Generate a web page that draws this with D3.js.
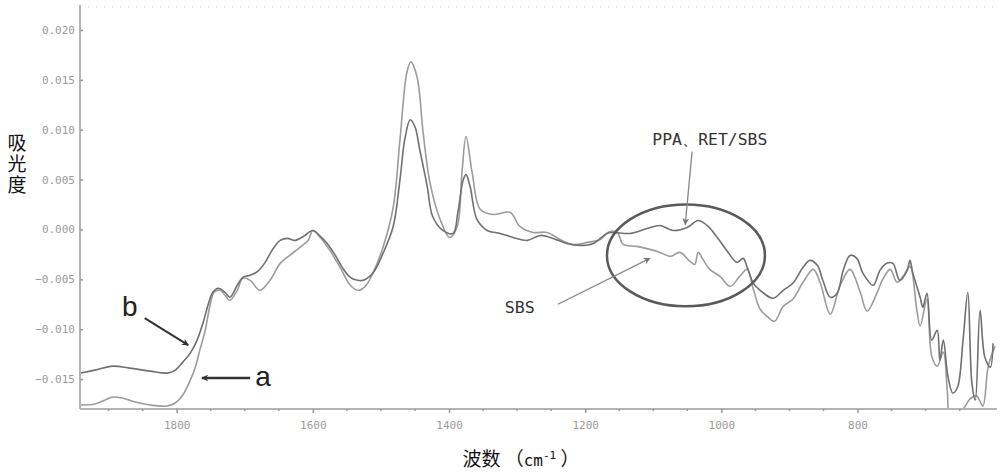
<!DOCTYPE html>
<html><head><meta charset="utf-8">
<script src="https://cdn.jsdelivr.net/npm/d3@7"></script>
<style>html,body{margin:0;padding:0;background:#fff;} svg{display:block;}</style>
</head><body>
<svg id="chart" width="1000" height="474"></svg>
<script>
// ---- data (wavenumber cm-1, absorbance) ----
const waveB = [1942,1920,1894,1869,1839,1814,1802,1791,1780,1770,1761,1754,1747,1739,1729,1722,1711,1703,1692,1681,1670,1660,1648,1637,1626,1614,1600,1589,1579,1567,1556,1545,1534,1526,1512,1497,1482,1472,1465,1457,1450,1443,1432,1424,1409,1394,1387,1379,1375,1369,1359,1344,1325,1306,1285,1266,1247,1227,1208,1188,1168,1159,1134,1109,1090,1071,1050,1034,1021,1006,992,977,968,962,953,943,924,909,895,880,870,859,851,840,830,821,811,801,792,777,767,757,748,738,727,723,719,708,704,698,691,683,679,674,667,660,653,645,638,632,627,620,613,605,601];
const absB = [-0.0144,-0.0141,-0.0137,-0.0139,-0.0142,-0.0144,-0.0141,-0.0133,-0.0124,-0.0111,-0.0093,-0.0076,-0.0063,-0.0059,-0.0063,-0.0068,-0.0056,-0.0048,-0.0046,-0.0042,-0.0033,-0.0021,-0.0011,-0.0009,-0.0011,-0.0007,-0.0001,-0.0007,-0.0014,-0.0026,-0.0039,-0.0048,-0.0051,-0.0051,-0.0044,-0.0024,0.0003,0.0050,0.0090,0.0110,0.0103,0.0080,0.0043,0.0013,-0.0001,-0.0004,0.0017,0.0050,0.0055,0.0043,0.0010,-0.0001,-0.0004,-0.0008,-0.0011,-0.0006,-0.0009,-0.0014,-0.0016,-0.0014,-0.0004,-0.0003,-0.0004,0.0001,0.0004,-0.0001,0.0002,0.0009,0.0004,-0.0008,-0.0021,-0.0033,-0.0029,-0.0038,-0.0054,-0.0061,-0.0069,-0.0061,-0.0054,-0.0038,-0.0031,-0.0036,-0.0051,-0.0068,-0.0064,-0.0041,-0.0026,-0.0029,-0.0044,-0.0056,-0.0041,-0.0034,-0.0034,-0.0051,-0.0041,-0.0031,-0.0043,-0.0068,-0.0078,-0.0064,-0.0111,-0.0101,-0.0131,-0.0111,-0.0148,-0.0164,-0.0158,-0.0111,-0.0063,-0.0154,-0.0171,-0.0081,-0.0128,-0.0138,-0.0114];

const waveA = [1942,1920,1905,1894,1880,1861,1839,1814,1802,1791,1780,1773,1766,1758,1751,1745,1736,1729,1722,1711,1703,1692,1678,1663,1648,1634,1619,1607,1600,1589,1575,1560,1545,1534,1523,1512,1497,1482,1472,1462,1456,1447,1438,1428,1413,1399,1388,1381,1375,1366,1354,1335,1310,1296,1277,1256,1237,1219,1197,1178,1164,1153,1144,1124,1105,1090,1075,1061,1046,1039,1034,1027,1017,1002,987,973,962,953,943,933,922,909,895,880,865,855,840,826,811,796,786,771,763,752,742,733,723,713,708,698,691,683,674,668,664,645,635,625,616,608,598];
const absA = [-0.0176,-0.0175,-0.0171,-0.0168,-0.0169,-0.0173,-0.0176,-0.0177,-0.0174,-0.0166,-0.0151,-0.0139,-0.0121,-0.0101,-0.0076,-0.0063,-0.0061,-0.0066,-0.0071,-0.0061,-0.0049,-0.0051,-0.0061,-0.0051,-0.0034,-0.0026,-0.0018,-0.0011,-0.0001,-0.0008,-0.0021,-0.0038,-0.0056,-0.0061,-0.0057,-0.0044,-0.0018,0.0022,0.0090,0.0157,0.0168,0.0153,0.0097,0.0047,0.0010,-0.0008,0.0003,0.0057,0.0093,0.0057,0.0020,0.0015,0.0017,0.0003,-0.0003,-0.0003,-0.0010,-0.0015,-0.0013,-0.0010,-0.0002,-0.0003,-0.0015,-0.0017,-0.0020,-0.0023,-0.0027,-0.0023,-0.0032,-0.0035,-0.0023,-0.0030,-0.0040,-0.0047,-0.0057,-0.0047,-0.0040,-0.0060,-0.0080,-0.0087,-0.0092,-0.0077,-0.0070,-0.0053,-0.0040,-0.0053,-0.0085,-0.0057,-0.0040,-0.0063,-0.0082,-0.0063,-0.0050,-0.0040,-0.0053,-0.0047,-0.0037,-0.0080,-0.0097,-0.0070,-0.0127,-0.0137,-0.0123,-0.0163,-0.0185,-0.0180,-0.0170,-0.0167,-0.0177,-0.0137,-0.0117];

const xMajorTicks = [1800, 1600, 1400, 1200, 1000, 800];
const xMinorTicks = [1900,1850,1750,1700,1650,1550,1500,1450,1350,1300,1250,1150,1100,1050,950,900,850,750,700,650];
const yTicks = [0.020, 0.015, 0.010, 0.005, 0.000, -0.005, -0.010, -0.015];
const xDomain = [1942, 601];
const yDomain = [-0.0180, 0.0225];

// ---- layout ----
const svg = d3.select("#chart");
const L = 80, R = 993, T = 5, B = 409;
const x = d3.scaleLinear().domain(xDomain).range([L, R]);
const y = d3.scaleLinear().domain(yDomain).range([B, T]);

svg.append("defs").append("clipPath").attr("id", "plotclip")
  .append("rect").attr("x", L + 1).attr("y", T).attr("width", 1000 - L).attr("height", B - T - 1);

// faint dotted top frame
svg.append("line").attr("x1", L).attr("x2", 1000).attr("y1", 7).attr("y2", 7)
  .attr("stroke", "#d2d2d2").attr("stroke-width", 1).attr("stroke-dasharray", "1,7");

// axes lines
svg.append("line").attr("x1", L).attr("x2", L).attr("y1", T).attr("y2", B)
  .attr("stroke", "#b4b4b4").attr("stroke-width", 2);
svg.append("line").attr("x1", L).attr("x2", 997).attr("y1", B).attr("y2", B)
  .attr("stroke", "#b4b4b4").attr("stroke-width", 2);

// y ticks
const yAxis = d3.axisLeft(y).tickValues(yTicks).tickSize(-3).tickPadding(7)
  .tickFormat(d3.format(".3f"));
const gy = svg.append("g").attr("transform", `translate(${L},0)`).call(yAxis);
gy.select(".domain").remove();
gy.selectAll(".tick line").attr("stroke", "#999").attr("stroke-width", 1.5);
gy.selectAll(".tick text").attr("fill", "#9a9a9a").attr("font-family", "DejaVu Sans Mono")
  .attr("font-size", 11).attr("x", -5);

// x ticks
const xAxis = d3.axisBottom(x).tickValues(xMajorTicks).tickSize(4).tickPadding(8)
  .tickFormat(d3.format("d"));
const gx = svg.append("g").attr("transform", `translate(0,${B})`).call(xAxis);
gx.select(".domain").remove();
gx.selectAll(".tick line").attr("stroke", "#999").attr("stroke-width", 1.5);
gx.selectAll(".tick text").attr("fill", "#9a9a9a").attr("font-family", "DejaVu Sans Mono")
  .attr("font-size", 11);
svg.append("g").selectAll("line").data(xMinorTicks).join("line")
  .attr("x1", d => x(d)).attr("x2", d => x(d)).attr("y1", B).attr("y2", B + 2)
  .attr("stroke", "#999").attr("stroke-width", 1.5);

// curves
const line = d3.line().x(d => x(d[0])).y(d => y(d[1])).curve(d3.curveCatmullRom.alpha(0.5));
const dataA = waveA.map((w, i) => [w, absA[i]]);
const dataB = waveB.map((w, i) => [w, absB[i]]);
const plot = svg.append("g").attr("clip-path", "url(#plotclip)");
plot.append("path").attr("d", line(dataA)).attr("fill", "none")
  .attr("stroke", "#9c9c9c").attr("stroke-width", 1.6);
plot.append("path").attr("d", line(dataB)).attr("fill", "none")
  .attr("stroke", "#707070").attr("stroke-width", 1.6);

// arrow markers
const defs = svg.select("defs");
function marker(id, color) {
  defs.append("marker").attr("id", id).attr("viewBox", "0 0 10 10").attr("refX", 9).attr("refY", 5)
    .attr("markerWidth", 9).attr("markerHeight", 7).attr("markerUnits", "userSpaceOnUse")
    .attr("orient", "auto").append("path").attr("d", "M0,0 L10,5 L0,10 L3,5 Z").attr("fill", color);
}
marker("arrDark", "#333");
marker("arrGray", "#777");

function arrow(w1, v1, w2, v2, id, color, sw) {
  svg.append("line").attr("x1", x(w1)).attr("y1", y(v1)).attr("x2", x(w2)).attr("y2", y(v2))
    .attr("stroke", color).attr("stroke-width", sw).attr("marker-end", `url(#${id})`);
}

// annotations
svg.append("ellipse").attr("cx", x(1052)).attr("cy", y(-0.0026))
  .attr("rx", x(1052) - x(1168)).attr("ry", y(-0.0077) - y(-0.0026))
  .attr("fill", "none").attr("stroke", "#5a5a5a").attr("stroke-width", 2.5);

arrow(1847, -0.0089, 1783, -0.0116, "arrDark", "#333", 2);
arrow(1692, -0.0149, 1763, -0.0149, "arrDark", "#333", 2.5);
arrow(1240, -0.0075, 1105, -0.0029, "arrGray", "#888", 1.3);
arrow(1043, 0.0078, 1053, 0.0005, "arrGray", "#888", 1.3);

svg.append("text").attr("x", x(1869)).attr("y", y(-0.0087)).attr("text-anchor", "middle")
  .attr("font-family", "Liberation Sans").attr("font-size", 28).attr("fill", "#222").text("b");
svg.append("text").attr("x", x(1673)).attr("y", y(-0.0157)).attr("text-anchor", "middle")
  .attr("font-family", "Liberation Sans").attr("font-size", 28).attr("fill", "#222").text("a");
svg.append("text").attr("x", x(1296)).attr("y", y(-0.0084)).attr("text-anchor", "middle")
  .attr("font-family", "DejaVu Sans Mono").attr("font-size", 16).attr("fill", "#333")
  .attr("textLength", 30).attr("lengthAdjust", "spacingAndGlyphs").text("SBS");
svg.append("text").attr("x", x(1017)).attr("y", y(0.0085)).attr("text-anchor", "middle")
  .attr("font-family", "DejaVu Sans Mono").attr("font-size", 16).attr("fill", "#333")
  .attr("textLength", 115).attr("lengthAdjust", "spacingAndGlyphs").text("PPA、RET/SBS");

// axis titles
svg.append("text").attr("x", 17).attr("y", 133)
  .attr("font-family", "Noto Sans CJK SC").attr("font-size", 19).attr("fill", "#111")
  .style("writing-mode", "vertical-rl").style("letter-spacing", "2px")
  .text("吸光度");

const xt = svg.append("text").attr("x", 521).attr("y", 466).attr("text-anchor", "middle")
  .attr("font-family", "Noto Sans CJK SC").attr("font-size", 19).attr("fill", "#111");
xt.append("tspan").text("波数 （");
xt.append("tspan").attr("font-family", "DejaVu Sans Mono").attr("font-size", 16).text("cm");
xt.append("tspan").attr("font-size", 11).attr("dy", -7).attr("font-family", "DejaVu Sans Mono").text("-1");
xt.append("tspan").attr("dy", 7).text(" ）");
</script>
</body></html>
